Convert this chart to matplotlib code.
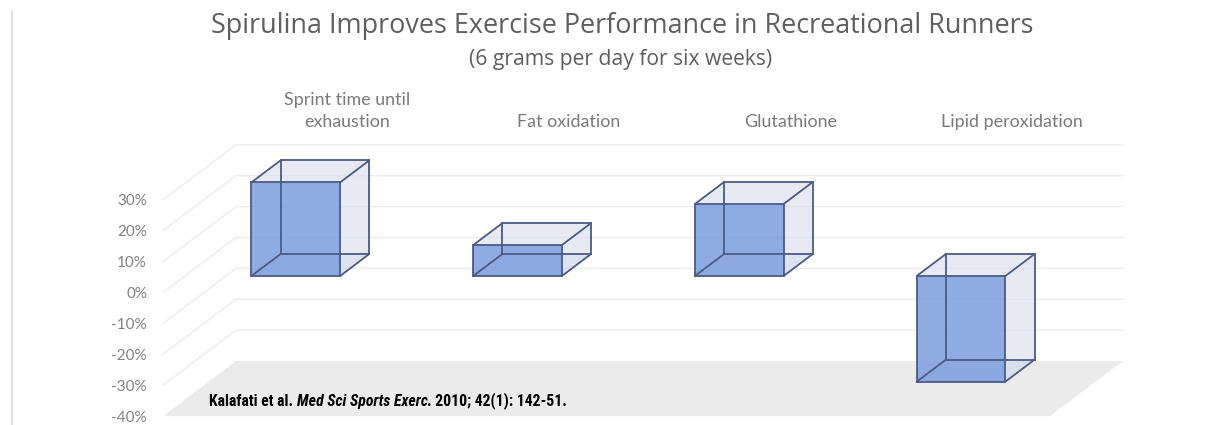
import matplotlib
matplotlib.use("Agg")
import matplotlib.pyplot as plt
from matplotlib import font_manager
from matplotlib.patches import Polygon
from matplotlib.lines import Line2D
from matplotlib.transforms import Bbox
from matplotlib.ticker import FuncFormatter

plt.rcParams["font.family"] = ["Lato", "DejaVu Sans"]

title = "Spirulina Improves Exercise Performance in Recreational Runners"
subtitle = "(6 grams per day for six weeks)"
categories = ["Sprint time until\nexhaustion", "Fat oxidation", "Glutathione", "Lipid peroxidation"]
change_pct = [30.3, 10.0, 23.3, -34.2]
y_ticks = [-40, -30, -20, -10, 0, 10, 20, 30]
citation = ["Kalafati et al.", "Med Sci Sports Exerc", ". 2010; 42(1): 142-51."]

# oblique 3-D look: offset of the back wall from the front plane, in data units
DEPTH_X = 0.329
DEPTH_Y = 17.8
BAR_W = 0.40
BAR_Z = (0.30, 0.70)

FRONT = "#86a5e0"
SIDE = "#dde2ed"
EDGE = "#4a5b85"
FLOOR = "#ebebeb"
GRID = "#ececec"
W, H = 1219, 425

installed = {f.name for f in font_manager.fontManager.ttflist}
CITE_FONT = next((f for f in ("Liberation Sans Narrow", "Roboto Condensed", "Roboto")
                  if f in installed), "DejaVu Sans")


def proj(x, y, z):
    return (x + z * DEPTH_X, y + z * DEPTH_Y)


def face(ax, pts, color, alpha, z=3):
    ax.add_patch(Polygon([proj(*p) for p in pts], closed=True, facecolor=color,
                         edgecolor="none", alpha=alpha, zorder=z, clip_on=False))


def draw_box(ax, xc, v):
    x0, x1 = xc - BAR_W / 2, xc + BAR_W / 2
    y0, y1 = min(0, v), max(0, v)
    z0, z1 = BAR_Z
    c = {(i, j, k): (x, y, z)
         for i, x in enumerate((x0, x1))
         for j, y in enumerate((y0, y1))
         for k, z in enumerate((z0, z1))}
    # faces, back to front
    face(ax, [c[0, 0, 0], c[1, 0, 0], c[1, 0, 1], c[0, 0, 1]], FRONT, 0.25)  # bottom
    face(ax, [c[1, 0, 0], c[1, 1, 0], c[1, 1, 1], c[1, 0, 1]], SIDE, 0.7)    # right
    face(ax, [c[0, 1, 0], c[1, 1, 0], c[1, 1, 1], c[0, 1, 1]], SIDE, 0.7)    # top
    face(ax, [c[0, 0, 0], c[1, 0, 0], c[1, 1, 0], c[0, 1, 0]], FRONT, 0.93)  # front
    edges = []
    for j in (0, 1):
        for k in (0, 1):
            edges.append((c[0, j, k], c[1, j, k]))
    for i in (0, 1):
        for k in (0, 1):
            edges.append((c[i, 0, k], c[i, 1, k]))
    for i in (0, 1):
        for j in (0, 1):
            edges.append((c[i, j, 0], c[i, j, 1]))
    for a, b in edges:
        pa, pb = proj(*a), proj(*b)
        ax.plot([pa[0], pb[0]], [pa[1], pb[1]], color=EDGE, lw=1.3,
                solid_capstyle="round", zorder=4, clip_on=False)


fig = plt.figure(figsize=(W / 100, H / 100), dpi=100)
# axes box = front plane of the chart
ax = fig.add_axes([163 / W, 8.9 / H, 887 / W, 216.3 / H])
n = len(categories)
ax.set_xlim(0, n)
ax.set_ylim(y_ticks[0], y_ticks[-1])
for s in ax.spines.values():
    s.set_visible(False)
ax.set_xticks([])
ax.set_yticks(y_ticks)
ax.yaxis.set_major_formatter(FuncFormatter(lambda v, _: f"{v:.0f}%"))
ax.tick_params(axis="y", length=0, pad=11.5, labelsize=11, labelcolor="#828282")
ax.patch.set_visible(False)

# floor
lo = y_ticks[0]
ax.add_patch(Polygon([proj(0, lo, 0), proj(n, lo, 0), proj(n, lo, 1), proj(0, lo, 1)],
                     closed=True, facecolor=FLOOR, edgecolor="none", zorder=1, clip_on=False))
# side wall and back wall gridlines
for v in y_ticks[1:]:
    a, b, c = proj(0, v, 0), proj(0, v, 1), proj(n, v, 1)
    ax.plot([a[0], b[0], c[0]], [a[1], b[1], c[1]], color=GRID, lw=1.0,
            zorder=1.5, clip_on=False)

for i, v in enumerate(change_pct):
    draw_box(ax, i + 0.5, v)

cat_texts = []
for i, cat in enumerate(categories):
    x, y = proj(i + 0.5, y_ticks[-1] + 4.8, 1)
    cat_texts.append(ax.text(x, y, cat, ha="center", va="bottom", fontsize=11,
                             color="#7a7a7a", linespacing=1.45, clip_on=False))

t_title = fig.text(622 / W, 1 - 33.3 / H, title, ha="center", va="baseline",
                   family="Open Sans", fontsize=16, color="#5f5f5f")
t_sub = fig.text(621 / W, 1 - 65.5 / H, subtitle, ha="center", va="baseline",
                 family="Open Sans", fontsize=12, color="#5f5f5f")

# citation in three runs so the journal name can be italic
cite_kw = dict(ha="left", va="bottom", family=CITE_FONT, weight="bold",
               fontsize=9, color="black")
c1 = fig.text(209 / W, 1 - 409 / H, citation[0], **cite_kw)
c2 = fig.text(0, 0, citation[1], style="italic", **cite_kw)
c3 = fig.text(0, 0, citation[2], **cite_kw)

# left edge of the slide frame
fig.add_artist(Line2D([12 / W, 12 / W], [0, 1 - 11 / H], transform=fig.transFigure,
                      color="#d9d9d9", lw=1.2))

renderer = fig.canvas.get_renderer()


def place_runs():
    bb = c1.get_window_extent(renderer)
    x = bb.x1 + c1.get_fontsize() * 0.3
    c2.set_position((x / W, bb.y0 / H))
    bb = c2.get_window_extent(renderer)
    c3.set_position((bb.x1 / W, bb.y0 / H))


def fit_width(artists, target):
    bb = Bbox.union([a.get_window_extent(renderer) for a in artists])
    k = target / bb.width
    for a in artists:
        a.set_fontsize(a.get_fontsize() * k)


fit_width([t_title], 825)
fit_width([t_sub], 303)
fs = cat_texts[2].get_fontsize() * 93 / cat_texts[2].get_window_extent(renderer).width
for t in cat_texts:
    t.set_fontsize(fs)
place_runs()
fit_width([c1, c2, c3], 358)
place_runs()

fig.savefig("out.png", dpi=100)
